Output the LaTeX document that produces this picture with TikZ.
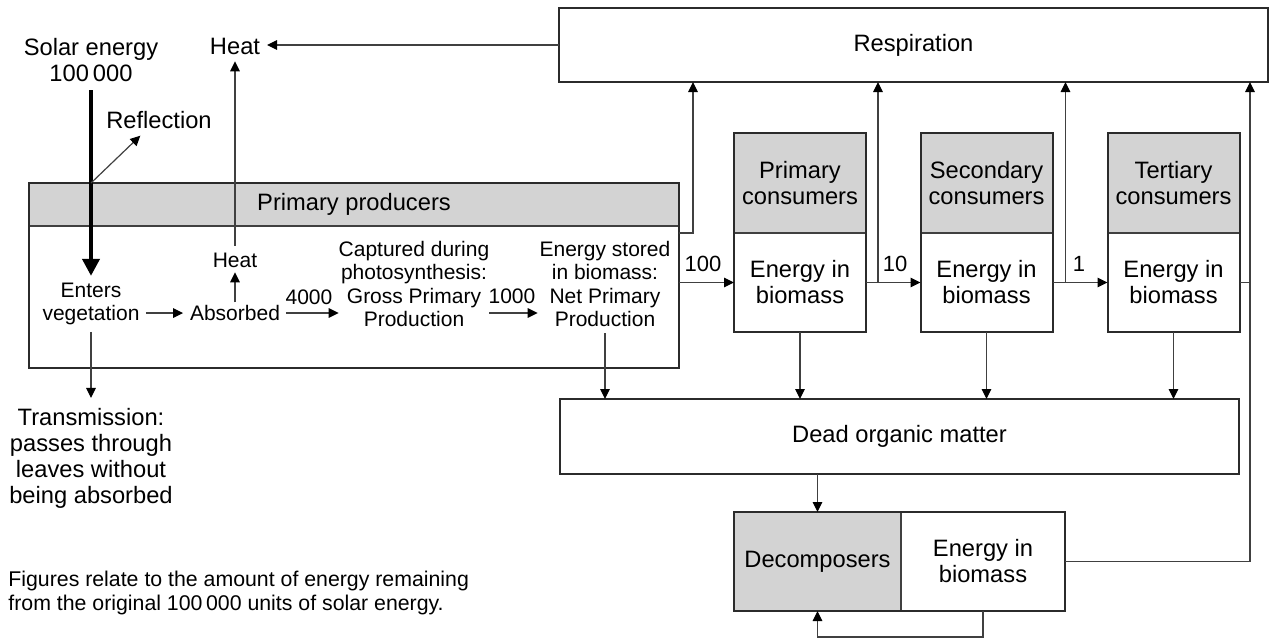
\documentclass[tikz,border=0pt]{standalone}
\usepackage{fontspec}
\setmainfont{Liberation Sans}
\usetikzlibrary{arrows.meta}
\definecolor{hdr}{HTML}{D3D3D3}
\definecolor{edge}{HTML}{2B2B2B}
\definecolor{wirec}{HTML}{404040}
\begin{document}
\begin{tikzpicture}[x=0.5pt,y=-0.5pt,
  big/.style={font=\fontsize{11.85}{13}\selectfont, align=center, inner sep=0pt, outer sep=0pt},
  small/.style={font=\fontsize{10.5}{11.75}\selectfont, align=center, inner sep=0pt, outer sep=0pt},
  num/.style={font=\fontsize{11}{13}\selectfont, inner sep=0pt, outer sep=0pt},
  boxline/.style={draw=edge, line width=1pt},
  wire/.style={draw=wirec, line width=0.6pt},
  arr/.style={wire, -{Triangle[length=5pt,width=4.8pt,color=black]}},
  sunarrow/.style={draw=black, line width=2pt, -{Triangle[length=8.5pt,width=8.5pt]}},
]
\useasboundingbox (0,0) rectangle (1270,639);

% ---- Primary producers
\node[big, fill=hdr, minimum width=325pt, minimum height=21.5pt] (prodhead) at (354,204.5) {Primary producers};
\draw[wire] (prodhead.south west) -- (prodhead.south east);
\node[boxline, minimum width=325pt, minimum height=92.5pt, inner sep=0pt, outer sep=0pt] (prod) at (354,275.5) {};

% ---- Respiration
\node[big, boxline, minimum width=354.5pt, minimum height=37pt] (resp) at (913.5,45) {Respiration};

% ---- Consumers
\node[big, fill=hdr, minimum width=66pt, minimum height=50pt] (pch) at (800,183) {Primary\\consumers};
\node[big, minimum width=66pt, minimum height=49.5pt] (pcb) at (800,282.5) {Energy in\\biomass};
\draw[wire] (pch.south west) -- (pch.south east);
\draw[boxline] (pch.north west) rectangle (pcb.south east);

\node[big, fill=hdr, minimum width=66pt, minimum height=50pt] (sch) at (986.5,183) {Secondary\\consumers};
\node[big, minimum width=66pt, minimum height=49.5pt] (scb) at (986.5,282.5) {Energy in\\biomass};
\draw[wire] (sch.south west) -- (sch.south east);
\draw[boxline] (sch.north west) rectangle (scb.south east);

\node[big, fill=hdr, minimum width=66pt, minimum height=50pt] (tch) at (1173.5,183) {Tertiary\\consumers};
\node[big, minimum width=66pt, minimum height=49.5pt] (tcb) at (1173.5,282.5) {Energy in\\biomass};
\draw[wire] (tch.south west) -- (tch.south east);
\draw[boxline] (tch.north west) rectangle (tcb.south east);

% ---- Dead organic matter
\node[big, boxline, minimum width=339.5pt, minimum height=37.5pt] (dom) at (899.5,436.5) {Dead organic matter};

% ---- Decomposers
\node[big, fill=hdr, minimum width=83.5pt, minimum height=49.5pt] (decl) at (817.5,561.5) {Decomposers};
\node[big, minimum width=82pt, minimum height=49.5pt] (decr) at (983,561.5) {Energy in\\biomass};
\draw[wire] (decl.north east) -- (decl.south east);
\draw[boxline] (decl.north west) rectangle (decr.south east);

% ---- Labels outside
\node[big] (solar) at (91,60) {Solar energy\\100\,000};
\node[big] (refl) at (159,120) {Reflection};
\node[big] (heattop) at (235,46) {Heat};
\node[big] (trans) at (91,458) {Transmission:\\passes through\\leaves without\\being absorbed};
\node[font=\fontsize{10.65}{12}\selectfont, align=left, anchor=west, inner sep=0pt] (note) at (8,593) {Figures relate to the amount of energy remaining\\from the original 100\,000 units of solar energy.};

% ---- Texts inside producers
\node[small] (enters) at (91,304) {Enters\\vegetation};
\node[small] (absorbed) at (235,313) {Absorbed};
\node[small] (heatin) at (235,260) {Heat};
\node[small] (gpp) at (414,284) {Captured during\\photosynthesis:\\Gross Primary\\Production};
\node[small] (npp) at (605,284) {Energy stored\\in biomass:\\Net Primary\\Production};
\node[small] (n4000) at (309,297) {4000};
\node[small] (n1000) at (512,296) {1000};

% ---- Flow numbers
\node[num] (n100) at (703,264) {100};
\node[num] (n10) at (895,264) {10};
\node[num] (n1) at (1079,264) {1};

% ---- Connectors
\coordinate (sunstart) at (91,90);
\draw[sunarrow] (sunstart) -- ([yshift=3.5pt]enters.north);
\draw[arr] (sunstart |- prod.north) -- ([xshift=17pt,yshift=-3.5pt]refl.south west);
\draw[arr] ([yshift=3.5pt]heatin.north) -- ([yshift=-3.5pt]heattop.south);
\draw[arr] ([yshift=1.5pt]absorbed.north) -- ([yshift=-2.5pt]heatin.south);
\draw[arr] ([xshift=3.25pt]enters.east |- absorbed) -- ([xshift=-3.5pt]absorbed.west);
\draw[arr] ([xshift=3pt]absorbed.east) -- (gpp.west |- absorbed);
\draw[arr] (gpp.east |- absorbed) -- ([xshift=-1pt]npp.west |- absorbed);
\draw[arr] ([yshift=-3.3pt]enters.south) -- ([yshift=5pt]trans.north);
\draw[arr] ([yshift=-3.25pt]npp.south) -- (npp.south |- dom.north);
\draw[arr] (resp.west) -- ([xshift=3.5pt]heattop.east |- resp.west);

\draw[arr] ([yshift=-3.5pt]prodhead.south east) -| ([xshift=67pt]resp.south west);
\draw[arr] (prod.east |- pcb.center) -- (pcb.west);
\draw[arr] (pcb.east) -- (scb.west);
\draw[arr] ([xshift=6pt]pcb.east) -- ([xshift=6pt]pcb.east |- resp.south);
\draw[arr] (scb.east) -- (tcb.west);
\draw[arr] ([xshift=6.5pt]scb.east) -- ([xshift=6.5pt]scb.east |- resp.south);
\coordinate (rx) at ([xshift=5.25pt]tcb.east);
\draw[wire] (tcb.east) -- (rx);
\draw[arr] (decr.east) -| (rx |- resp.south);

\draw[arr] (pcb.south) -- (pcb.south |- dom.north);
\draw[arr] (scb.south) -- (scb.south |- dom.north);
\draw[arr] (tcb.south) -- (tcb.south |- dom.north);
\draw[arr] (dom.south -| decl) -- (decl.north);
\draw[arr] (decr.south) -- ++(0,26) -| (decl.south);
\end{tikzpicture}
\end{document}
